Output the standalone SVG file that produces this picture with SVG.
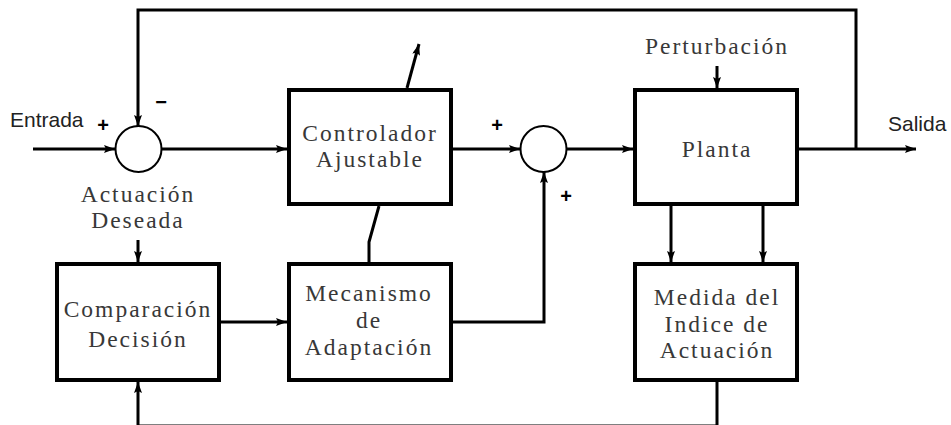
<svg xmlns="http://www.w3.org/2000/svg" width="951" height="425" viewBox="0 0 951 425">
  <defs>
    <marker id="arrow" markerUnits="userSpaceOnUse" markerWidth="12" markerHeight="8" refX="11" refY="4" orient="auto">
      <path d="M0,0 L11,4 L0,8 L2,4 z" fill="#000"/>
    </marker>
    <style>
      .block { fill: #fff; stroke: #000; stroke-width: 4; }
      .sum { fill: #fff; stroke: #000; stroke-width: 2; }
      .wire { fill: none; stroke: #000; stroke-width: 3; }
      .arrow { marker-end: url(#arrow); }
      .lbl { font-family: "Liberation Serif", "Times New Roman", serif; font-size: 23.5px; letter-spacing: 2px; fill: #383838; text-anchor: middle; }
      .io { font-family: "Liberation Sans", Arial, sans-serif; font-size: 21px; fill: #222; }
      .sign { font-family: "Liberation Sans", Arial, sans-serif; font-size: 20px; font-weight: bold; fill: #000; text-anchor: middle; }
    </style>
  </defs>

  <rect width="951" height="425" fill="#fff"/>

  <!-- connectors -->
  <g id="connectors">
    <path class="wire arrow" d="M33 149 H115"/>
    <path class="wire arrow" d="M161 149 H287"/>
    <path class="wire arrow" d="M453 149 H520"/>
    <path class="wire arrow" d="M567 149 H633"/>
    <path class="wire arrow" d="M799 149 H916"/>
    <!-- output feedback to the first summing junction -->
    <path class="wire arrow" d="M856 149 V10 H138 V126"/>
    <path class="wire arrow" d="M717 66 V88"/>
    <!-- adjustment arrow across the controller -->
    <path class="wire arrow" d="M407 88 L419 44"/>
    <path class="wire" d="M369 262 V242 L379 206"/>
    <path class="wire arrow" d="M138 240 V262"/>
    <path class="wire arrow" d="M221 322 H287"/>
    <path class="wire arrow" d="M453 322 H544 V172"/>
    <path class="wire arrow" d="M671 206 V262"/>
    <path class="wire arrow" d="M763 206 V262"/>
    <path class="wire arrow" d="M717 382 V426 H138 V382"/>
  </g>

  <!-- summing junctions -->
  <g id="sum1">
    <circle class="sum" cx="138.5" cy="149" r="23"/>
    <text class="sign" x="103" y="132">+</text>
    <text class="sign" x="161" y="109">−</text>
  </g>
  <g id="sum2">
    <circle class="sum" cx="543.5" cy="149" r="23"/>
    <text class="sign" x="497" y="132">+</text>
    <text class="sign" x="566" y="203">+</text>
  </g>

  <!-- blocks -->
  <g id="controlador">
    <rect class="block" x="289" y="90" width="162" height="114"/>
    <text class="lbl" x="370" y="141">Controlador</text>
    <text class="lbl" x="370" y="167">Ajustable</text>
  </g>
  <g id="planta">
    <rect class="block" x="635" y="90" width="162" height="114"/>
    <text class="lbl" x="717" y="157">Planta</text>
  </g>
  <g id="comparacion">
    <rect class="block" x="57" y="264" width="162" height="116"/>
    <text class="lbl" x="138" y="317">Comparación</text>
    <text class="lbl" x="138" y="347">Decisión</text>
  </g>
  <g id="mecanismo">
    <rect class="block" x="289" y="264" width="162" height="116"/>
    <text class="lbl" x="369" y="301">Mecanismo</text>
    <text class="lbl" x="369" y="328">de</text>
    <text class="lbl" x="369" y="355">Adaptación</text>
  </g>
  <g id="medida">
    <rect class="block" x="635" y="264" width="162" height="116"/>
    <text class="lbl" x="717" y="305">Medida del</text>
    <text class="lbl" x="717" y="332">Indice de</text>
    <text class="lbl" x="717" y="358">Actuación</text>
  </g>

  <!-- external signals -->
  <g id="perturbacion">
    <text class="lbl" x="717" y="54">Perturbación</text>
  </g>
  <g id="actuacion-deseada">
    <text class="lbl" x="138" y="202">Actuación</text>
    <text class="lbl" x="138" y="228">Deseada</text>
  </g>
  <g id="entrada">
    <text class="io" x="10" y="127">Entrada</text>
  </g>
  <g id="salida">
    <text class="io" x="888" y="131">Salida</text>
  </g>
</svg>
